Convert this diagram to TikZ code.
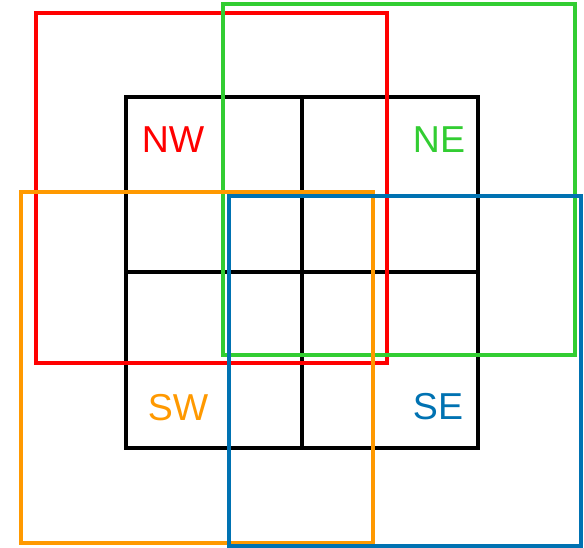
\documentclass[tikz,border=0pt]{standalone}
\usepackage{fontspec}
\setmainfont{Liberation Sans}
\definecolor{cred}{RGB}{255,0,0}
\definecolor{cgreen}{RGB}{50,205,50}
\definecolor{corange}{RGB}{255,153,0}
\definecolor{cblue}{RGB}{0,114,178}
\begin{document}
\begin{tikzpicture}[x=1pt,y=1pt,
  frame/.style={line width=4pt},
  lbl/.style={font=\fontsize{37.5}{40}\selectfont, inner sep=0pt}]
\useasboundingbox (0,0) rectangle (584,548);
% black grid
\draw[frame, black] (126,100) rectangle (478,451);
\draw[frame, black] (302,100) -- (302,451);
\draw[frame, black] (126,276) -- (478,276);
% quadrant frames
\draw[frame, cred] (35.5,184.7) rectangle (387.3,535.3);
\draw[frame, cgreen] (222.7,192.7) rectangle (575.3,544);
\draw[frame, corange] (20.7,4.7) rectangle (372.7,356);
\draw[frame, cblue] (229,2) rectangle (580.7,352);
% labels
\node[lbl, text=cred] (nw) at (173,408) {NW};
\node[lbl, text=cgreen] (ne) at (439,408) {NE};
\node[lbl, text=corange] (sw) at (178,140) {SW};
\node[lbl, text=cblue] (se) at (438,141) {SE};
\end{tikzpicture}
\end{document}
